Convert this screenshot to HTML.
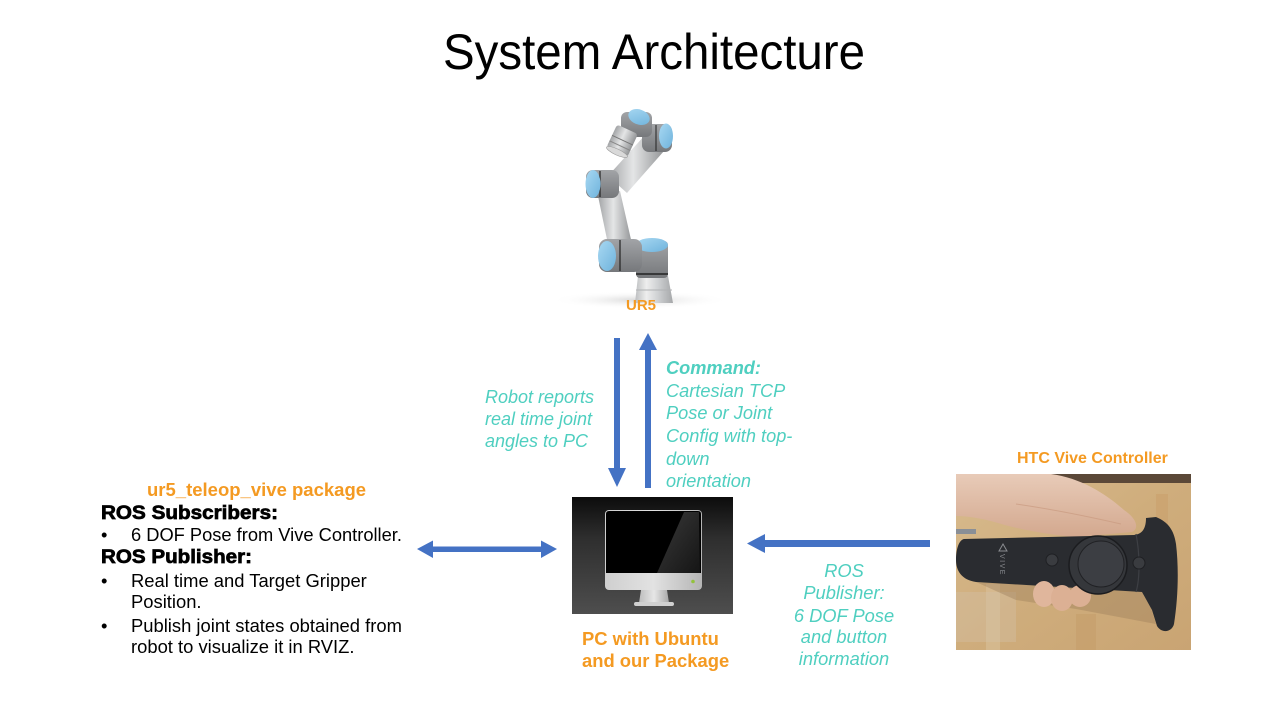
<!DOCTYPE html>
<html>
<head>
<meta charset="utf-8">
<style>
html,body{margin:0;padding:0;background:#fff;}
body{width:1280px;height:720px;overflow:hidden;}
svg{display:block;}
text{font-family:"Liberation Sans",Arial,sans-serif;}
</style>
</head>
<body>
<svg width="1280" height="720" viewBox="0 0 1280 720" xmlns="http://www.w3.org/2000/svg">
<defs>
  <linearGradient id="pcbg" x1="0" y1="0" x2="0" y2="1">
    <stop offset="0" stop-color="#0c0c0c"/>
    <stop offset="0.35" stop-color="#2e2e2e"/>
    <stop offset="1" stop-color="#4e4e4e"/>
  </linearGradient>
  <linearGradient id="silver" x1="0" y1="0" x2="1" y2="0">
    <stop offset="0" stop-color="#bdbdbd"/>
    <stop offset="0.5" stop-color="#e6e6e6"/>
    <stop offset="1" stop-color="#a8a8a8"/>
  </linearGradient>
  <linearGradient id="chin" x1="0" y1="0" x2="1" y2="0">
    <stop offset="0" stop-color="#cfcfcf"/>
    <stop offset="0.5" stop-color="#e2e2e2"/>
    <stop offset="1" stop-color="#b5b5b5"/>
  </linearGradient>
  <linearGradient id="gloss" x1="0" y1="0" x2="1" y2="1">
    <stop offset="0" stop-color="#3a3a3a"/>
    <stop offset="1" stop-color="#151515"/>
  </linearGradient>
  <linearGradient id="arm" x1="0" y1="0" x2="1" y2="0">
    <stop offset="0" stop-color="#a2a4a6"/>
    <stop offset="0.45" stop-color="#e4e5e6"/>
    <stop offset="1" stop-color="#939597"/>
  </linearGradient>
  <linearGradient id="joint" x1="0" y1="0" x2="0" y2="1">
    <stop offset="0" stop-color="#a2a4a7"/>
    <stop offset="1" stop-color="#76787b"/>
  </linearGradient>
  <linearGradient id="blue" x1="0" y1="0" x2="1" y2="1">
    <stop offset="0" stop-color="#a8d8f2"/>
    <stop offset="1" stop-color="#6fb3dc"/>
  </linearGradient>
  <linearGradient id="ped" x1="0" y1="0" x2="1" y2="0">
    <stop offset="0" stop-color="#bcbec0"/>
    <stop offset="0.3" stop-color="#eeeeee"/>
    <stop offset="0.6" stop-color="#cfd1d3"/>
    <stop offset="1" stop-color="#a5a7a9"/>
  </linearGradient>
  <radialGradient id="shadow" cx="0.5" cy="0.5" r="0.5">
    <stop offset="0" stop-color="#d8d8d8"/>
    <stop offset="1" stop-color="#ffffff" stop-opacity="0"/>
  </radialGradient>
  <linearGradient id="wood" x1="0" y1="0" x2="1" y2="1">
    <stop offset="0" stop-color="#d8bb8e"/>
    <stop offset="0.5" stop-color="#cfad7c"/>
    <stop offset="1" stop-color="#c9a473"/>
  </linearGradient>
  <linearGradient id="skin" x1="0" y1="0" x2="0" y2="1">
    <stop offset="0" stop-color="#e8cbb8"/>
    <stop offset="1" stop-color="#d3a88e"/>
  </linearGradient>
  <clipPath id="viveclip"><rect x="0" y="0" width="235" height="176"/></clipPath>
</defs>

<!-- Title -->
<text x="443" y="69" font-size="50" textLength="422" lengthAdjust="spacingAndGlyphs" fill="#000">System Architecture</text>

<!-- Robot UR5 -->
<ellipse cx="640" cy="300" rx="90" ry="9" fill="url(#shadow)"/>
<!-- pedestal -->
<polygon points="638,276 668,276 673,303 635,303" fill="url(#ped)"/>
<line x1="636" y1="290" x2="672" y2="290" stroke="#b0b2b4" stroke-width="1"/>
<!-- base joint -->
<rect x="636" y="241" width="32" height="37" rx="4" fill="url(#joint)"/>
<line x1="636" y1="274" x2="668" y2="274" stroke="#222" stroke-width="1.5"/>
<ellipse cx="652" cy="245" rx="16" ry="7" fill="url(#blue)"/>
<!-- upper arm -->
<polygon points="598,196 620,191 632,244 609,249" fill="url(#arm)"/>
<!-- shoulder joint -->
<rect x="599" y="239" width="43" height="33" rx="8" fill="url(#joint)"/>
<line x1="620" y1="240" x2="620" y2="271" stroke="#222" stroke-width="1.2"/>
<ellipse cx="607" cy="256" rx="9" ry="15" fill="url(#blue)"/>
<!-- forearm -->
<polygon points="608,176 645,135 664,151 627,193" fill="url(#arm)"/>
<!-- elbow joint -->
<rect x="586" y="170" width="33" height="28" rx="7" fill="url(#joint)"/>
<line x1="600" y1="171" x2="600" y2="197" stroke="#222" stroke-width="1.2"/>
<ellipse cx="593" cy="184" rx="7.5" ry="14" fill="url(#blue)"/>
<!-- wrist 2 -->
<rect x="642" y="124" width="30" height="28" rx="7" fill="url(#joint)"/>
<line x1="656" y1="125" x2="656" y2="151" stroke="#222" stroke-width="1"/>
<ellipse cx="666" cy="136" rx="7" ry="12.5" fill="url(#blue)"/>
<!-- wrist 1 / top -->
<rect x="621" y="112" width="31" height="25" rx="6" fill="url(#joint)"/>
<ellipse cx="639" cy="117" rx="11" ry="7.5" fill="url(#blue)" transform="rotate(20 639 117)"/>
<!-- tool flange -->
<g transform="rotate(25 622 140)">
  <rect x="611" y="128" width="23" height="25" rx="3" fill="url(#arm)"/>
  <line x1="611" y1="140" x2="634" y2="140" stroke="#777" stroke-width="1"/>
  <line x1="611" y1="146" x2="634" y2="146" stroke="#888" stroke-width="1"/>
  <ellipse cx="622.5" cy="153" rx="11.5" ry="3" fill="#d9d9d9" stroke="#999" stroke-width="0.6"/>
</g>
<text x="626" y="310" font-size="15" font-weight="bold" fill="#f49a22">UR5</text>

<!-- Vertical arrows -->
<rect x="614" y="338" width="6" height="131" fill="#4472c4"/>
<polygon points="608,468 626,468 617,487" fill="#4472c4"/>
<rect x="645" y="349" width="6" height="139" fill="#4472c4"/>
<polygon points="639,350 657,350 648,333" fill="#4472c4"/>

<!-- Robot reports text -->
<g font-size="18" font-style="italic" fill="#4fcfc0">
  <text x="485" y="403">Robot reports</text>
  <text x="485" y="425">real time joint</text>
  <text x="485" y="447">angles to PC</text>
</g>
<!-- Command text -->
<g font-size="18.2" font-style="italic" fill="#4fcfc0">
  <text x="666" y="374" font-weight="bold">Command:</text>
  <text x="666" y="397">Cartesian TCP</text>
  <text x="666" y="419">Pose or Joint</text>
  <text x="666" y="442">Config with top-</text>
  <text x="666" y="465">down</text>
  <text x="666" y="487">orientation</text>
</g>

<!-- PC -->
<rect x="572" y="497" width="161" height="117" fill="url(#pcbg)"/>
<rect x="605" y="510" width="97" height="80" rx="4" fill="url(#chin)"/>
<path d="M609,511 L698,511 Q701,511 701,514 L701,573 L606,573 L606,514 Q606,511 609,511 Z" fill="#000"/>
<polygon points="684,512 699,512 700,573 657,573" fill="url(#gloss)"/>
<circle cx="693" cy="581.5" r="1.8" fill="#93c23c"/>
<polygon points="641,590 667,590 669,603 639,603" fill="url(#silver)"/>
<rect x="634" y="602" width="40" height="4" rx="2" fill="#d0d0d0"/>
<text x="582" y="645" font-size="18.4" font-weight="bold" fill="#f49a22">PC with Ubuntu</text>
<text x="582" y="667" font-size="18.4" font-weight="bold" fill="#f49a22">and our Package</text>

<!-- Double arrow -->
<rect x="432" y="546.5" width="110" height="5.5" fill="#4472c4"/>
<polygon points="417,549 433,540.5 433,558" fill="#4472c4"/>
<polygon points="557,549 541,540.5 541,558" fill="#4472c4"/>

<!-- Left block -->
<text x="147" y="496" font-size="18.5" font-weight="bold" fill="#f49a22">ur5_teleop_vive package</text>
<text x="101" y="519" font-size="19" font-weight="bold" fill="#000" stroke="#000" stroke-width="0.7" textLength="177" lengthAdjust="spacingAndGlyphs">ROS Subscribers:</text>
<g font-size="18.3" fill="#000">
  <text x="101" y="541">•</text>
  <text x="131" y="541">6 DOF Pose from Vive Controller.</text>
</g>
<text x="101" y="563" font-size="19" font-weight="bold" fill="#000" stroke="#000" stroke-width="0.7" textLength="151" lengthAdjust="spacingAndGlyphs">ROS Publisher:</text>
<g font-size="18.4" fill="#000">
  <text x="101" y="587">•</text>
  <text x="131" y="587">Real time and Target Gripper</text>
  <text x="131" y="608">Position.</text>
  <text x="101" y="632">•</text>
  <text x="131" y="632">Publish joint states obtained from</text>
  <text x="131" y="653">robot to visualize it in RVIZ.</text>
</g>

<!-- Arrow from Vive -->
<rect x="764" y="540" width="166" height="7" fill="#4472c4"/>
<polygon points="747,543.5 765,534 765,553" fill="#4472c4"/>

<!-- ROS Publisher text -->
<g font-size="18.3" font-style="italic" fill="#4fcfc0" text-anchor="middle">
  <text x="844" y="577">ROS</text>
  <text x="844" y="599">Publisher:</text>
  <text x="844" y="622">6 DOF Pose</text>
  <text x="844" y="643">and button</text>
  <text x="844" y="665">information</text>
</g>

<!-- HTC Vive -->
<text x="1017" y="463" font-size="16" font-weight="bold" fill="#f49a22">HTC Vive Controller</text>
<g transform="translate(956,474)">
  <g clip-path="url(#viveclip)">
    <rect x="0" y="0" width="235" height="176" fill="url(#wood)"/>
    <rect x="30" y="110" width="14" height="66" fill="#d9c09a" opacity="0.6"/>
    <rect x="120" y="140" width="20" height="36" fill="#c49c68" opacity="0.5"/>
    <rect x="200" y="20" width="12" height="40" fill="#c9a06c" opacity="0.6"/>
    <rect x="0" y="118" width="60" height="50" fill="#d3c3ad" opacity="0.35"/>
    <rect x="90" y="0" width="145" height="9" fill="#5b4838"/>
    <!-- shadow under controller -->
    <path d="M20,108 L190,118 L200,150 L120,135 L60,126 Z" fill="#9a7d5b" opacity="0.4"/>
    <!-- cable -->
    <rect x="0" y="55" width="20" height="5" fill="#8a8f96"/>
    <!-- hand -->
    <path d="M0,0 L95,0 C125,4 150,20 168,36 C180,44 184,54 176,58 L120,63 C95,61 65,56 42,49 C25,44 10,42 0,42 Z" fill="url(#skin)"/>
    <path d="M60,30 C95,35 130,42 165,50" stroke="#c99a80" stroke-width="1" fill="none" opacity="0.7"/>
    <!-- controller body -->
    <path d="M8,65 L178,61 C188,60 190,52 190,44 L200,43 C212,48 218,56 220,70 C223,95 222,125 218,150 C216,158 206,160 201,152 L196,136 L186,118 L20,108 C6,106 0,97 0,86 C0,75 3,66 8,65 Z" fill="#2a2c30"/>
    <path d="M180,60 C184,80 184,105 180,118" stroke="#3d3f44" stroke-width="1.2" fill="none"/>
    <!-- fingers below -->
    <ellipse cx="88" cy="120" rx="11" ry="13" fill="#e0b69c"/>
    <ellipse cx="106" cy="124" rx="11" ry="13" fill="#dcb094"/>
    <ellipse cx="124" cy="122" rx="11" ry="11" fill="#dcb094"/>
    <!-- trackpad -->
    <circle cx="142" cy="91" r="29" fill="#35373b" stroke="#1b1c1f" stroke-width="1.5"/>
    <circle cx="145" cy="90" r="23" fill="#3c3e43" stroke="#202124" stroke-width="1"/>
    <circle cx="96" cy="86" r="6" fill="#3a3c40" stroke="#1f2023" stroke-width="1"/>
    <circle cx="183" cy="89" r="6" fill="#3a3c40" stroke="#1f2023" stroke-width="1"/>
    <!-- logo -->
    <polygon points="47,70 51,77 43,77" fill="none" stroke="#8a8c90" stroke-width="1"/>
    <text x="0" y="0" font-size="7" fill="#8a8c90" transform="translate(44,80) rotate(90)" letter-spacing="1.5">VIVE</text>
  </g>
</g>
</svg>
</body>
</html>
